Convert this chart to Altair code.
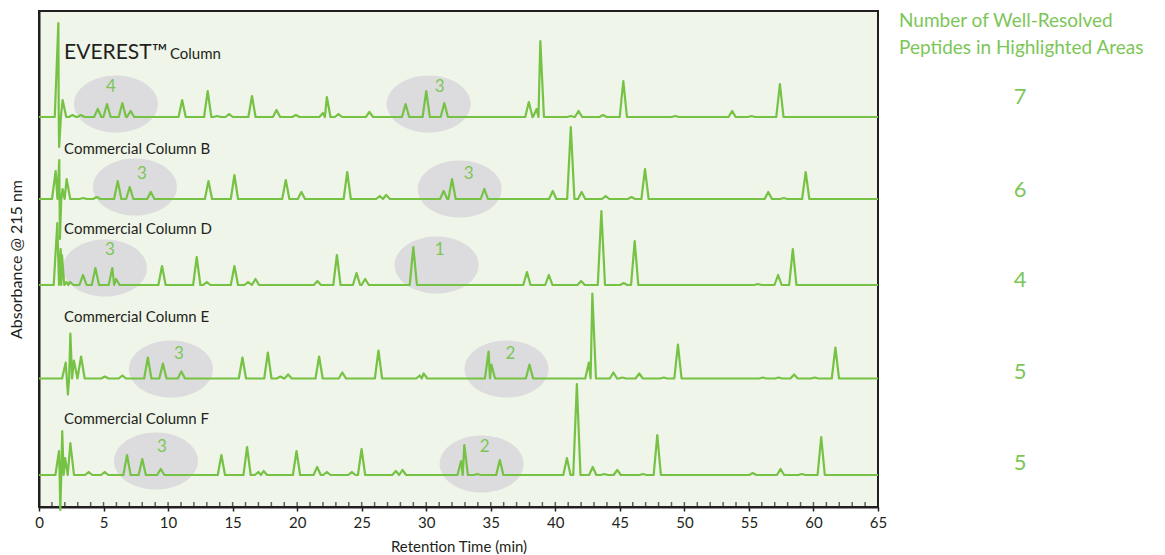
import altair as alt
import pandas as pd

# ---------------- data ----------------
trace_names = ["EVEREST", "Commercial Column B", "Commercial Column D",
               "Commercial Column E", "Commercial Column F"]
trace_offsets = [390, 308, 222, 128.5, 32]   # baseline of each stacked trace (absorbance units)

ev_t = [1.50, 1.56, 1.83, 2.6, 3.25, 4.55, 5.27, 6.46, 7.1, 11.09, 13.07, 13.8, 14.73, 16.5, 18.4,
        19.9, 22.0, 22.3, 23.2, 25.6, 28.4, 30.0, 31.4, 37.95, 38.55, 38.84, 41.2, 41.8, 43.7,
        45.27, 49.3, 53.7, 55.2, 57.4]
ev_h = [94, -30, 17, 2, 2, 8, 13, 14, 6, 17, 26, 1, 3, 21, 7,
        2, 4, 20, 3, 5, 13, 26, 14, 15, 8, 76, 1, 6, 2,
        36, 1, 6, 1, 33]

b_t = [1.29, 1.57, 1.62, 1.83, 2.14, 3.43, 4.47, 6.1, 7.03, 8.66, 13.13, 15.14, 19.12, 20.33,
       23.88, 26.4, 26.9, 31.35, 32.0, 34.5, 39.8, 41.2, 42.04, 43.9, 45.9, 46.95, 56.5, 57.7, 59.4]
b_h = [28, 39, -40, 10, 20, 1, 2, 18, 12, 7, 18, 24, 19, 7,
       27, 3, 4, 8, 20, 10, 8, 72, 7, 3, 2, 30, 7, 1, 27]

d_t = [1.42, 1.68, 1.78, 2.14, 2.4, 3.41, 4.37, 5.68, 5.97, 9.53, 12.22, 13.0, 15.14, 16.2,
       16.77, 21.57, 23.08, 24.6, 25.27, 29.0, 37.8, 39.5, 42.0, 43.57, 45.3, 46.15, 55.7,
       57.26, 58.4]
d_h = [62, 36, 30, 3, 3, 10, 17, 17, 6, 19, 28, 3, 19, 3,
       6, 4, 30, 12, 6, 38, 13, 10, 4, 74, 2, 44, 1,
       10, 36]

e_t = [2.07, 2.24, 2.43, 2.7, 3.26, 5.1, 6.46, 8.43, 9.6, 11.03, 15.76, 17.73, 18.7, 19.3,
       21.7, 23.5, 26.3, 29.5, 29.8, 34.83, 35.05, 38.0, 42.6, 42.87, 44.5, 45.2, 46.5, 48.4,
       49.5, 56.07, 57.3, 58.5, 60.1, 61.7]
e_h = [16, -16, 45, 18, 22, 2, 3, 21, 15, 7, 21, 26, 2, 4,
       22, 6, 28, 3, 5, 27, 14, 14, 16, 85, 6, 1, 5, 1,
       34, 1, 1, 4, 1, 31]

f_t = [1.55, 1.65, 1.8, 2.02, 2.43, 3.85, 5.09, 6.82, 8.0, 9.43, 14.13, 16.12, 17.0, 17.4,
       19.95, 21.55, 22.3, 24.24, 24.99, 27.65, 28.16, 32.7, 32.95, 33.95, 35.7, 40.9, 41.67,
       42.9, 43.8, 44.8, 46.8, 47.9, 55.3, 57.45, 59.1, 60.6]
f_h = [24, -35, 44, 17, 32, 3, 3, 20, 16, 6, 20, 28, 3, 4,
       24, 8, 3, 3, 26, 4, 5, 14, 30, 1, 15, 17, 91,
       8, 1, 5, 1, 40, 2, 6, 1, 38]

peak_times = [ev_t, b_t, d_t, e_t, f_t]
peak_heights = [ev_h, b_h, d_h, e_h, f_h]

# highlighted areas (ellipse centre and count label)
area_t = [5.96, 30.19, 7.43, 32.59, 5.11, 30.8, 10.22, 36.22, 9.06, 34.29]
area_y = [403, 403, 320, 318, 239, 242, 138, 138, 46, 43]
area_n = ["4", "3", "3", "3", "3", "1", "3", "2", "3", "2"]
area_lt = [5.57, 31.04, 7.97, 33.28, 5.5, 31.04, 10.84, 36.53, 9.52, 34.52]
area_ly = [420, 420, 333, 333, 257, 257, 153, 153, 60, 60]

# column labels
label_text = ["Commercial Column B", "Commercial Column D", "Commercial Column E", "Commercial Column F"]
label_y = [353, 273, 185, 83]

# well-resolved counts on the right
count_text = ["7", "6", "4", "5", "5"]
count_y = [403, 310, 220, 128, 37]

x_ticks = list(range(0, 66))
x_labels = list(range(0, 66, 5))

# ---------------- build tables ----------------
HW = 0.28
rows = []
for name, off, ts, hs in zip(trace_names, trace_offsets, peak_times, peak_heights):
    pts = [(0.0, 0.0)]
    n = len(ts)
    for i, (t, h) in enumerate(zip(ts, hs)):
        left = t - HW
        if i > 0:
            left = max(left, (ts[i - 1] + t) / 2)
        right = t + HW
        if i < n - 1:
            right = min(right, (t + ts[i + 1]) / 2)
        pts += [(left, 0.0), (t, float(h)), (right, 0.0)]
    pts.append((65.0, 0.0))
    clean = []
    for p in pts:
        if not clean or abs(p[0] - clean[-1][0]) > 1e-9 or p[1] != clean[-1][1]:
            clean.append(p)
    for k, (t, v) in enumerate(clean):
        rows.append({"trace": name, "t": t, "a": v + off, "k": k})
lines_df = pd.DataFrame(rows)

areas_df = pd.DataFrame({"t": area_t, "y": area_y})
area_lbl_df = pd.DataFrame({"t": area_lt, "y": area_ly, "n": area_n})
labels_df = pd.DataFrame({"t": [1.94] * len(label_text), "y": label_y, "txt": label_text})
counts_df = pd.DataFrame({"y": count_y, "txt": count_text})
ticks_df = pd.DataFrame({"t": x_ticks})

GREEN = "#76c244"
TXT_GREEN = "#7cc657"
DARK = "#231f20"
FONT = "Lato"

xs = alt.Scale(domain=[0, 65], nice=False, zero=False)
ys = alt.Scale(domain=[0, 496], nice=False, zero=False)

X_AXIS = alt.Axis(
    values=x_labels, title="Retention Time (min)", grid=False,
    tickSize=4, tickColor=DARK, tickWidth=1.5, labelPadding=4,
    labelFontSize=15, labelFont=FONT, labelColor=DARK, labelFlush=False,
    titleFont=FONT, titleFontSize=15, titleFontWeight="normal", titleColor=DARK, titlePadding=9,
    domainColor=DARK, domainWidth=2)
Y_AXIS = alt.Axis(
    title="Absorbance @ 215 nm", labels=False, ticks=False, grid=False,
    titleFont=FONT, titleFontSize=16, titleFontWeight="normal", titleColor=DARK, titlePadding=15,
    domainColor=DARK, domainWidth=2)


def X(field):
    return alt.X(field, scale=xs, axis=X_AXIS)


def Y(field):
    return alt.Y(field, scale=ys, axis=Y_AXIS)


ellipse_path = "M-1,0A1,0.68,0,1,1,1,0A1,0.68,0,1,1,-1,0Z"
ellipses = alt.Chart(areas_df).mark_point(
    shape=ellipse_path, filled=True, fill="#dcdcde", opacity=1, strokeWidth=0, size=7056
).encode(x=X("t:Q"), y=Y("y:Q"))

traces = alt.Chart(lines_df).mark_line(
    color=GREEN, strokeWidth=2.2, clip=False, strokeJoin="round"
).encode(x=X("t:Q"), y=Y("a:Q"), detail="trace:N", order="k:Q")

minor = alt.Chart(ticks_df).mark_tick(color=DARK, thickness=1.5, size=6, orient="vertical").encode(
    x=X("t:Q"), y=alt.value(494))

area_labels = alt.Chart(area_lbl_df).mark_text(
    font=FONT, fontSize=17, color=TXT_GREEN, baseline="middle", align="center"
).encode(x=X("t:Q"), y=Y("y:Q"), text="n:N")

col_labels = alt.Chart(labels_df).mark_text(
    font=FONT, fontSize=15, color=DARK, baseline="alphabetic", align="left"
).encode(x=X("t:Q"), y=Y("y:Q"), text="txt:N")

ev_df = pd.DataFrame({"t": [1.94], "y": [448], "txt": ["EVEREST™"]})
ev_label = alt.Chart(ev_df).mark_text(
    font=FONT, fontSize=21, color=DARK, baseline="alphabetic", align="left"
).encode(x=X("t:Q"), y=Y("y:Q"), text="txt:N")
ev_col = alt.Chart(pd.DataFrame({"t": [10.14], "y": [448], "txt": ["Column"]})).mark_text(
    font=FONT, fontSize=15, color=DARK, baseline="alphabetic", align="left"
).encode(x=X("t:Q"), y=Y("y:Q"), text="txt:N")

counts = alt.Chart(counts_df).mark_text(
    font=FONT, fontSize=22, color=TXT_GREEN, baseline="alphabetic", align="center"
).encode(x=alt.value(981), y=Y("y:Q"), text="txt:N")

head1 = alt.Chart(pd.DataFrame({"txt": ["Number of Well-Resolved"]})).mark_text(
    font=FONT, fontSize=19, color=TXT_GREEN, baseline="alphabetic", align="left"
).encode(x=alt.value(860), y=alt.value(16), text="txt:N")
head2 = alt.Chart(pd.DataFrame({"txt": ["Peptides in Highlighted Areas"]})).mark_text(
    font=FONT, fontSize=19, color=TXT_GREEN, baseline="alphabetic", align="left"
).encode(x=alt.value(860), y=alt.value(43), text="txt:N")

chart = alt.layer(
    ellipses, traces, minor, area_labels, col_labels, ev_label, ev_col, counts, head1, head2
).properties(
    width=839, height=496,
    autosize=alt.AutoSizeParams(type="none"),
    padding={"left": 39, "top": 11, "right": 287, "bottom": 48},
    background="white",
).configure_view(
    fill="#eff5e8", stroke=DARK, strokeWidth=2
)

chart.save("out.html", embed_options={"renderer": "svg", "actions": False})
